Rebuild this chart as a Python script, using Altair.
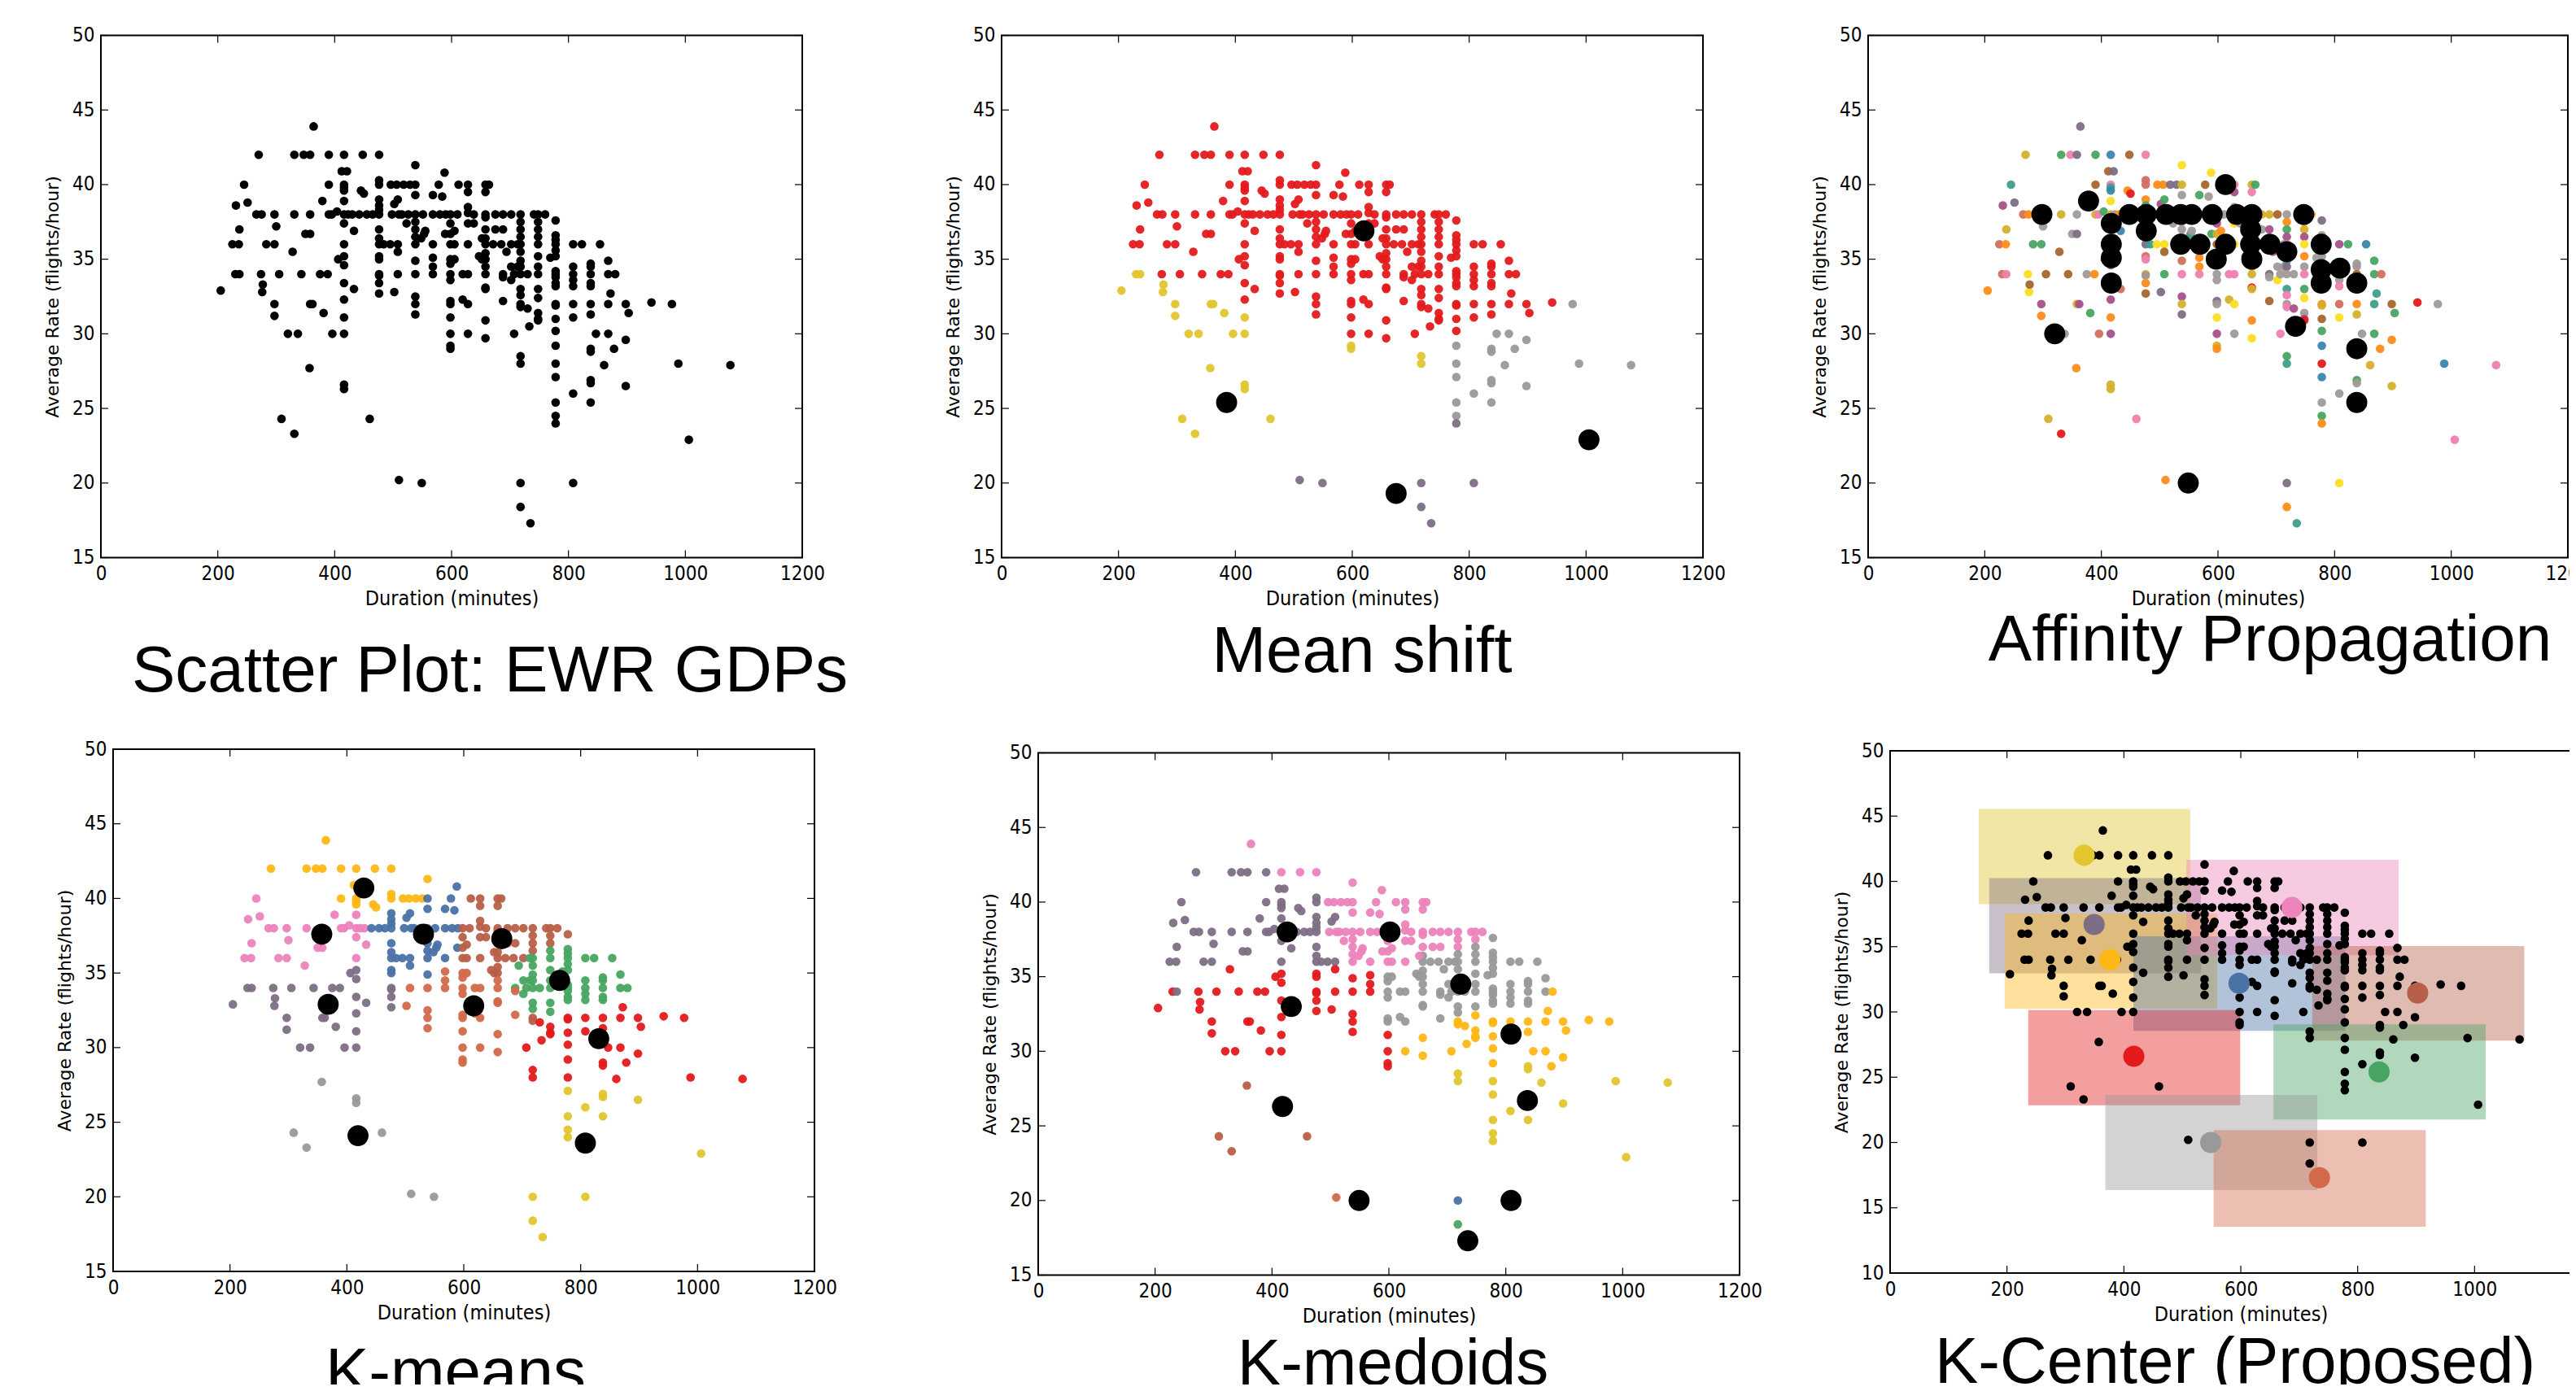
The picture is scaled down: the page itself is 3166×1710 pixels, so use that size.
import altair as alt
import pandas as pd

# ---- observations, grouped by duration column -------------------------------
duration_groups = [
    [205,225,236,230,237,231,237,245,251,266,275,270,274,276,277,283,297,297,297,297,300,305,309,320,337,328,331,331,331,343,347,358,350,358,358,358,362,357,364,375,388,379,381,390,390,390,395,396,404,406],
    [416,412,421,416,416,416,416,416,416,416,416,416,416,416,416,416,416,416],
    [423,430,433,433,442,448,445,450,455,460,465],
    [476]*16,
    [484,495,498,510,515,496,506,518,529,502,508,508,508,508,502,523],
    [538,538,538,526,538,538,538,538,538,538,538,538,538,538,551,553,555,548],
    [568,568,568,568,568,568,578,584,588,589,590,580],
    [598]*14,
    [605,605,605,612,610,619,619,628,628,628,628,628,628,628,628,628,638,638],
    [658]*15 + [647,652,652,664],
    [675,675,671,685,688,688,688,688,688,694,702,702,702,702,707,707,713,713],
    [718]*17,
    [730,730,733,735,741,760],
    [748]*13,
    [778]*21 + [769],
    [808]*9 + [823],
    [838]*12,
    [847,854,861,868,868,868,868,872,880,878,898,898,898,903,942,977,988,1077,1006,510,549],
]
rate_groups = [
    [32.9,36,36,34,34,38.6,37,40,38.8,38,38,42,34,32.8,33.3,36,38,36,32,31.2,37.2,34,24.3,30,30,35.5,42,38,23.3,34,42,42,36.7,36.7,38,32,32,27.7,43.9,34,34,38.9,31.4,42,40,38,38,30,38.2,35],
    [42,40.9,40.9,40,39.8,39.6,38.9,38,37.4,36,35.2,34.6,33.4,32.3,31.1,30,26.6,26.3],
    [38,38,36.9,33,38,42,39.6,39.4,38,24.3,38],
    [42,40.3,40,39,38.6,38.3,38,37,36.4,36,35.2,35,34,33.9,33.4,32.7],
    [36,36,38,38,38,40,40,40,40,38.7,39,36,35.5,34,32.8,37.4],
    [41.3,40,39.3,38,38,37.5,37,36.5,36,34.9,34,32.5,32,31.3,38,36.7,36.9,36.4],
    [39.3,38,36,35.1,34.5,34,40,39.2,40.8,36.7,38,38],
    [38,37.4,36.7,36,35,34.7,34,33.6,32.2,32,31.1,30,29.2,29],
    [36.9,36,35,40,38,34,32.3,40,39.5,38.5,38.1,37.4,36,34,32,30,38,37.4],
    [40,39.5,38,37.8,37,36.4,36,35.4,35,34.5,34,33.1,33,30.9,29.7,35.2,36.4,35,40],
    [38,37,36,36,38,37,34,33.8,32.2,35.5,38,36,34.5,33.6,34,30,34.5,36],
    [38,37.5,37,36.5,36,35.5,34.9,34.5,34,33,32.6,32,31.8,28.5,28,20,18.4],
    [34,31.7,30.5,17.3,38,38],
    [38,37.5,37,36.5,36,35.2,34.5,34,33,32.4,31.4,31,30.9],
    [37.6,36.6,36.3,36,35.6,35.2,34.2,34,33.8,33.4,33.2,32,31.9,31,30.2,29.2,28,27.1,25.4,24.5,24,35.1],
    [36,34.5,34,33.6,33.2,32,31.1,26,20,36],
    [34.7,34.5,34,33.4,33.2,32,31.3,29,28.8,26.9,26.7,25.4],
    [30,36,27.9,34.9,34,32,30,32.7,34,29,32,29.6,26.5,31.4,32.1,32,28,27.9,22.9,20.2,20],
]

# ---- cluster letter of every observation, per panel, same grouping ----------
meanshift_labels = [
    "YRRYYRRRRRRRRYYRRRYYRRYYYRRRYRRRRRRYYYRRRRYRRRRYRR",
    "RRRRRRRRRRRRRRYYYY", "RRRRRRRRRYR", "RRRRRRRRRRRRRRRR", "RRRRRRRRRRRRRRRR",
    "RRRRRRRRRRRRRRRRRR", "RRRRRRRRRRRR", "RRRRRRRRRRRRYY", "RRRRRRRRRRRRRRRRRR",
    "RRRRRRRRRRRRRRRRRRR", "RRRRRRRRRRRRRRRRRR", "RRRRRRRRRRRRRYYPP", "RRRPRR",
    "RRRRRRRRRRRRR", "RRRRRRRRRRRRRRRGGGGGPR", "RRRRRRRGPR", "RRRRRRRGGGGG",
    "GRGRRRGRRGRGGRRGGGGPP",
]
kmeans_labels = [
    "PIIPPIIIIIIAPPPIIIPPIPGPPIAIGPAAIIIPPGAPPIPAAIIPIP",
    "AAAAAAIIIIPPPPPPGG", "IIIPBAAABGB", "AAABBBBBBBBBPPPP", "BBBBBAAAABBBBOOB",
    "ABBBBBBBBBOOOOBBBB", "BBBOOOBBBBBB", "NNNNOOOOOOOOOO", "NNONNOONNNNNNOOONN",
    "NNNNNNNNNOOOOOONNNN", "NNNNNNEOOENNEEEREE", "NNNNEEEEEEENNRRYY", "ERRYNN",
    "NNNEEEEEEERRR", "NEEEEEEEEEERRRRRRYYYYE", "EEEEERRYYE", "EEEEERRRRYYY",
    "REREERRRERRRYRRRRRYGG",
]
kmedoids_labels = [
    "RPPRPPPPPPPPRRRPPPRRPRNRRRPPNRPPPPPRRNIRRPRPPPPRPR",
    "IPPPPPPPPPRRRRRRNN", "PPPRPIPPPNP", "IPPPPPPPPPRRRRRR", "PPIIIIIIIPPPRRRI",
    "IIIIIIIIIRRRRRIIII", "IIIRRRIIIIII", "IIIIGGGGGGRRRR", "IIGIIGGIIIIIIGGAII",
    "IIIIIGGGGGGGGAAGIGI", "IIGGIIGGGGIGGGGAGG", "IIIGGGGGGGGAAYYBE", "GAAYII",
    "IIGGGGGGGAAAA", "GGGGGGGGGGGAAAAAYYYYYG", "GGGGGAAYYG", "GGGGGAAYYYYY",
    "AGYGGAAAAAAAYAAAYYYOO",
]
affinity_labels = [
    "ococpmdtucodyyngegmoendeengdrnpueuedmoueoeggndpcgn",
    "snuptsydeeeuemomdd", "eosconorepn", "pccogpeemucpdeon", "tyednoouumgyngue",
    "ydeeoeeeecpmdunget", "goyoopneygdc", "emdnooeeueymdo", "oegnepdpmedyypyene",
    "dpeemeedoodrdoyeyog", "deeedmuenmnyeyepee", "eogmeetuetpepgtuo", "emetdo",
    "eodmyoepgyemr", "ueeeeeeeeeeodngsrsegoe", "meeepcyeyg", "eeneeodeegee",
    "esdggtgtconodgresppoe",
]

# ---- cluster centres read per panel ------------------------------------------
meanshift_cx = [620, 385, 1005, 675]
meanshift_cy = [36.9, 25.4, 22.9, 19.3]
affinity_cx = [298,378,417,417,417,417,320,448,477,477,511,536,555,590,632,658,613,536,569,613,597,656,656,658,689,718,747,777,777,777,809,838,733,838,838,549]
affinity_cy = [38,38.9,37.4,36,35.1,33.4,30,38,38,36.9,38,38,38,38,38,38,40,36,36,36,35,37,36,35,36,35.5,38,36,34.3,33.4,34.4,33.4,30.5,29,25.4,20]
kmeans_cx = [429,357,531,665,764,368,617,831,419,808]
kmeans_cy = [40.7,37.6,37.6,37.3,34.5,32.9,32.8,30.6,24.1,23.6]
kmedoids_cx = [426,602,723,433,809,837,418,549,809,735]
kmedoids_cy = [38,38,34.5,33,31.15,26.7,26.3,20,20,17.3]

# ---- K-Center boxes and centres ----------------------------------------------
kcenter_names = ["Y","P","A","B","R","I","N","E","G","O"]
kcenter_cx = [332,349,376,597,417,687.5,902.6,836.6,548.6,734.6]
kcenter_cy = [42,36.7,34,32.2,26.6,38,31.45,25.4,20,17.3]
kcenter_x0 = [152.6,170.6,197,417.4,237.4,508,723.4,657,369.4,554.6]
kcenter_x1 = [512.6,531,559,778,598,869,1084,1018,730,915.4]
kcenter_y0 = [38.3,33,30.3,28.6,22.9,34.4,27.85,21.8,16.4,13.6]
kcenter_y1 = [45.5,40.2,37.5,35.75,30.1,41.6,35,29,23.6,20.9]

palette_letters = ["R","B","E","P","A","Y","N","I","G","O","r","o","y","d","n","c","p","m","u","g","t","s","e"]
palette_colors = ["#e41a1c","#4a72a6","#48a462","#7e6e85","#ffb716","#e1c62f","#b75f49","#ec83ba","#999999","#d2694a",
                  "#e41a1c","#ff8c1a","#ffdd22","#d4b02c","#a8662e","#d0705e","#f080b0","#a8508a","#7e6e85","#48a462","#3f9e8a","#3a86b0","#a09a98"]

x_ticks = [0,200,400,600,800,1000,1200]
x_ticks_cut = [0,200,400,600,800,1000]
y_ticks = [15,20,25,30,35,40,45,50]
y_ticks_kc = [10,15,20,25,30,35,40,45,50]

x_title = "Duration (minutes)"
y_title = "Average Rate (flights/hour)"
panel_titles = ["Scatter Plot: EWR GDPs","Mean shift","Affinity Propagation","K-means","K-medoids","K-Center (Proposed)"]

for i, d in enumerate(duration_groups):
    assert len(d) == len(rate_groups[i]), ("rate", i)
    for nm, lab in (("ms",meanshift_labels),("km",kmeans_labels),("kd",kmedoids_labels),("ap",affinity_labels)):
        assert len(d) == len(lab[i]), (nm, i, len(d), len(lab[i]))

durations = [v for g in duration_groups for v in g]
rates = [v for g in rate_groups for v in g]
flat = lambda groups: list("".join(groups))

CELL_W, CELL_H, PH = 1050, 847, 642
DOT, CENTRE = 112, 670
color_scale = alt.Scale(domain=palette_letters, range=palette_colors)
LABEL_FONT = "DejaVu Sans Condensed"


def panel(idx, dx, dy, tx, ty, layers_fn, yticks=y_ticks, label_ticks=x_ticks, cut_label=False, clip_frame=False, pw=862):
    ymin, ymax = yticks[0], yticks[-1]
    xs = alt.Scale(domain=[0, 1200], range=[dx, dx + pw], nice=False, zero=False)
    ys = alt.Scale(domain=[ymin, ymax], range=[dy + PH, dy], nice=False, zero=False)
    frame_df = pd.DataFrame({"a": [0], "b": [1200], "c": [ymin], "d": [ymax]})
    xaxis = alt.Axis(values=label_ticks, grid=False, domain=False, ticks=False, format="d", title=x_title,
                     labelFont=LABEL_FONT, labelFontSize=24, labelColor="black", labelPadding=8,
                     titleFont=LABEL_FONT, titleFontSize=25, titleFontWeight="normal", titleColor="black",
                     titlePadding=6, offset=-(CELL_H - dy - PH), labelOverlap=False, labelFlush=False)
    yaxis = alt.Axis(values=yticks, grid=False, domain=False, ticks=False, format="d", title=y_title,
                     labelFont=LABEL_FONT, labelFontSize=24, labelColor="black", labelPadding=8,
                     titleFont="DejaVu Sans", titleFontSize=22, titleFontWeight="normal", titleColor="black",
                     titlePadding=12, offset=-dx, labelOverlap=False, labelFlush=False)
    X = lambda f: alt.X(f, scale=xs, axis=xaxis, title=x_title)
    Y = lambda f: alt.Y(f, scale=ys, axis=yaxis, title=y_title)
    layers = layers_fn(X, Y)
    frame = alt.Chart(frame_df).mark_rect(filled=False, stroke="black", strokeWidth=2, clip=clip_frame).encode(
        x=X("a:Q"), x2="b:Q", y=Y("c:Q"), y2="d:Q")
    xt = pd.DataFrame({"t": x_ticks})
    yt = pd.DataFrame({"t": yticks})
    tick = alt.Chart(xt).mark_rule(color="black", strokeWidth=1.2, clip=clip_frame)
    tick_y = alt.Chart(yt).mark_rule(color="black", strokeWidth=1.2, clip=clip_frame)
    extra = [
        tick.encode(x=X("t:Q"), y=alt.value(dy), y2=alt.value(dy + 9)),
        tick.encode(x=X("t:Q"), y=alt.value(dy + PH - 9), y2=alt.value(dy + PH)),
        tick_y.encode(y=Y("t:Q"), x=alt.value(dx), x2=alt.value(dx + 9)),
        tick_y.encode(y=Y("t:Q"), x=alt.value(dx + pw - 9), x2=alt.value(dx + pw)),
    ]
    if cut_label:
        extra.append(alt.Chart(pd.DataFrame({"t": [1200]})).mark_text(
            clip=True, font=LABEL_FONT, fontSize=24, color="black", baseline="top").encode(
            x=X("t:Q"), y=alt.value(dy + PH + 8), text="t:N"))
    big = alt.Chart(pd.DataFrame({"t": [panel_titles[idx]]})).mark_text(
        clip=True, font="Liberation Sans", fontSize=80, color="black", baseline="alphabetic", align="center").encode(
        x=alt.value(tx), y=alt.value(ty), text="t:N")
    return alt.layer(frame, *layers, *extra, big).properties(width=CELL_W, height=CELL_H)


def pts(labels=None):
    df = pd.DataFrame({"d": durations, "r": rates})
    if labels is not None:
        df["k"] = flat(labels)
    return df


def dots(X, Y, labels=None):
    base = alt.Chart(pts(labels))
    if labels is None:
        return base.mark_circle(size=DOT, opacity=1, color="black").encode(x=X("d:Q"), y=Y("r:Q"))
    return base.mark_circle(size=DOT, opacity=0.95).encode(
        x=X("d:Q"), y=Y("r:Q"), color=alt.Color("k:N", scale=color_scale, legend=None))


def centres(X, Y, cx, cy):
    return alt.Chart(pd.DataFrame({"x": cx, "y": cy})).mark_circle(size=CENTRE, opacity=1, color="black").encode(
        x=X("x:Q"), y=Y("y:Q"))


def kcenter_layers(X, Y):
    box = pd.DataFrame({"k": kcenter_names, "x0": kcenter_x0, "x1": kcenter_x1, "y0": kcenter_y0, "y1": kcenter_y1})
    cen = pd.DataFrame({"k": kcenter_names, "x": kcenter_cx, "y": kcenter_cy})
    col = alt.Color("k:N", scale=color_scale, legend=None)
    return [
        alt.Chart(box).mark_rect(opacity=0.42, strokeWidth=1.5).encode(
            x=X("x0:Q"), x2="x1:Q", y=Y("y0:Q"), y2="y1:Q", color=col, stroke=alt.Stroke("k:N", scale=color_scale, legend=None)),
        dots(X, Y),
        alt.Chart(cen).mark_circle(size=680, opacity=1).encode(x=X("x:Q"), y=Y("y:Q"), color=col),
    ]


p1 = panel(0, 116, 35.5, 594, 842, lambda X, Y: [dots(X, Y)])
p2 = panel(1, 173, 35.5, 616, 818, lambda X, Y: [dots(X, Y, meanshift_labels), centres(X, Y, meanshift_cx, meanshift_cy)])
p3 = panel(2, 188, 35.5, 682, 804, lambda X, Y: [dots(X, Y, affinity_labels), centres(X, Y, affinity_cx, affinity_cy)],
           label_ticks=x_ticks_cut, cut_label=True, pw=860)
p4 = panel(3, 131, 66, 552, 858, lambda X, Y: [dots(X, Y, kmeans_labels), centres(X, Y, kmeans_cx, kmeans_cy)])
p5 = panel(4, 218, 70.5, 654, 847, lambda X, Y: [dots(X, Y, kmedoids_labels), centres(X, Y, kmedoids_cx, kmedoids_cy)])
p6 = panel(5, 215, 68, 639, 845, kcenter_layers, yticks=y_ticks_kc, label_ticks=x_ticks_cut, cut_label=True, clip_frame=True)

chart = alt.concat(p1, p2, p3, p4, p5, p6, columns=3, spacing=0, bounds="flush").properties(
    padding=0, background="white").configure_view(stroke=None)

chart.save("out.html", embed_options={"renderer": "svg", "actions": False})
